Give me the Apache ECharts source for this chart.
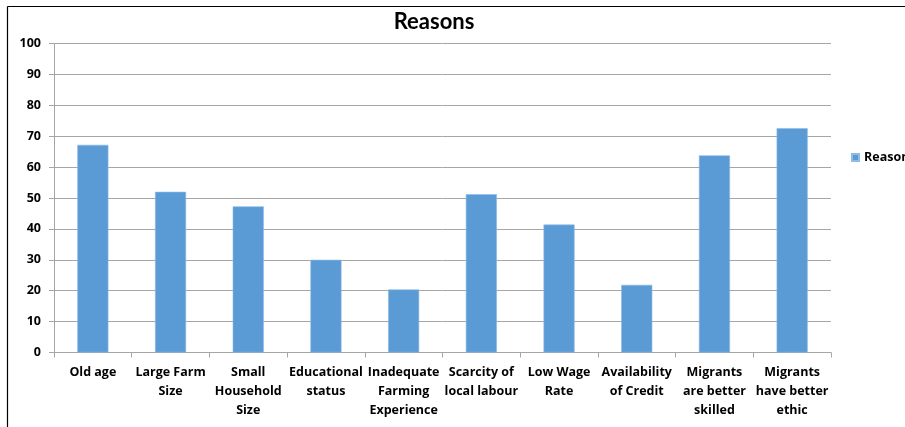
<!DOCTYPE html>
<html>
<head>
<meta charset="utf-8">
<style>
  html, body { margin: 0; padding: 0; background: #ffffff; }
  #chart { width: 905px; height: 427px; }
</style>
<script src="https://cdn.jsdelivr.net/npm/echarts@6/dist/echarts.min.js"></script>
</head>
<body>
<div id="chart"></div>
<script>
// Reasons cited, share of respondents (%)
const categories = [
  'Old age',
  'Large Farm\nSize',
  'Small\nHousehold\nSize',
  'Educational\nstatus',
  'Inadequate\nFarming\nExperience',
  'Scarcity of\nlocal labour',
  'Low Wage\nRate',
  'Availability\nof Credit',
  'Migrants\nare better\nskilled',
  'Migrants\nhave better\nethic'
];
const reasonValues = [67.2, 52, 47.3, 30, 20.4, 51.2, 41.4, 21.9, 63.8, 72.6];
const seriesName = 'Reasons';

const TITLE_FONT = 'Lato, "Open Sans", "DejaVu Sans", sans-serif';
const FONT = '"Open Sans", Lato, "DejaVu Sans", sans-serif';
const chart = echarts.init(document.getElementById('chart'));

chart.setOption({
  animation: false,
  backgroundColor: '#ffffff',
  title: {
    text: 'Reasons',
    left: 429,
    top: 6,
    textAlign: 'center',
    textStyle: { fontFamily: TITLE_FONT, fontWeight: 'bold', fontSize: 22, color: '#000000' }
  },
  legend: {
    data: [seriesName],
    left: 851,
    top: 151,
    padding: 0,
    itemWidth: 7,
    itemHeight: 7,
    itemGap: 5,
    icon: 'rect',
    textStyle: { fontFamily: FONT, fontWeight: 'bold', fontSize: 12.5, color: '#000000', padding: [0, 0, 0, 0] }
  },
  grid: { left: 54, right: 74, top: 43.5, bottom: 74.5, containLabel: false },
  xAxis: {
    type: 'category',
    data: categories,
    axisLine: { lineStyle: { color: '#a6a6a6', width: 1 } },
    axisTick: { show: true, length: 5, lineStyle: { color: '#a6a6a6' } },
    axisLabel: {
      interval: 0,
      margin: 10,
      fontFamily: FONT,
      fontWeight: 'bold',
      fontSize: 12.5,
      lineHeight: 19,
      color: '#000000',
      align: 'center'
    }
  },
  yAxis: {
    type: 'value',
    min: 0,
    max: 100,
    interval: 10,
    axisLine: { show: true, lineStyle: { color: '#a6a6a6', width: 1 } },
    axisTick: { show: true, length: 5, lineStyle: { color: '#a6a6a6' } },
    axisLabel: { margin: 13, fontFamily: FONT, fontWeight: 'bold', fontSize: 12.5, color: '#000000' },
    splitLine: { show: true, lineStyle: { color: '#a6a6a6', width: 1 } }
  },
  series: [{
    name: seriesName,
    type: 'bar',
    data: reasonValues,
    barWidth: '40%',
    itemStyle: { color: '#5b9bd5', borderColor: '#8fbbe6', borderWidth: 0.6 }
  }],
  graphic: [
    { type: 'line', shape: { x1: 7.5, y1: 6.5, x2: 905, y2: 6.5 }, style: { stroke: '#000000', lineWidth: 1.2 } },
    { type: 'line', shape: { x1: 7.5, y1: 6.5, x2: 7.5, y2: 427 }, style: { stroke: '#000000', lineWidth: 1.2 } }
  ]
});
</script>
</body>
</html>
